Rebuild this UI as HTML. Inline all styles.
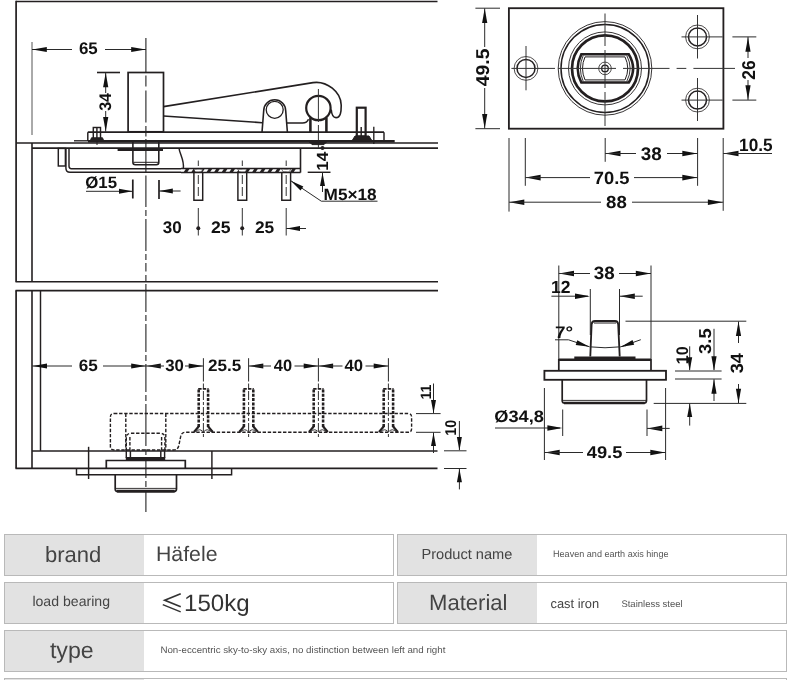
<!DOCTYPE html>
<html><head><meta charset="utf-8"><title>Hinge dimensions</title>
<style>
html,body{margin:0;padding:0;background:#fff;}
body{width:790px;height:680px;overflow:hidden;font-family:"Liberation Sans",sans-serif;}
svg{display:block;}
svg text{font-family:"Liberation Sans",sans-serif;text-rendering:geometricPrecision;}
svg{will-change:transform;}
</style></head><body>
<svg width="790" height="680" viewBox="0 0 790 680">
<rect width="790" height="680" fill="#fff"/>
<g id="tl">
<line x1="16.1" y1="0.8" x2="16.1" y2="281.8" stroke="#231f20" stroke-width="1.71" />
<line x1="16.1" y1="1.5" x2="437.5" y2="1.5" stroke="#231f20" stroke-width="1.71" />
<line x1="15.5" y1="281.8" x2="438" y2="281.8" stroke="#231f20" stroke-width="1.59" />
<line x1="16.1" y1="143" x2="438" y2="143" stroke="#231f20" stroke-width="1.46" />
<line x1="32" y1="148.1" x2="438" y2="148.1" stroke="#231f20" stroke-width="1.83" />
<line x1="32" y1="143" x2="32" y2="281.8" stroke="#231f20" stroke-width="1.59" />
<line x1="32" y1="42" x2="32" y2="135" stroke="#555" stroke-width="1.0" />
<line x1="145.9" y1="38" x2="145.9" y2="72" stroke="#222" stroke-width="1.1" />
<line x1="145.9" y1="75.5" x2="145.9" y2="86.5" stroke="#222" stroke-width="1.1" />
<line x1="145.9" y1="90.5" x2="145.9" y2="122.5" stroke="#222" stroke-width="1.1" />
<line x1="145.9" y1="126" x2="145.9" y2="136.5" stroke="#222" stroke-width="1.1" />
<line x1="145.9" y1="139" x2="145.9" y2="172" stroke="#222" stroke-width="1.1" />
<line x1="145.9" y1="175.5" x2="145.9" y2="207" stroke="#222" stroke-width="1.1" />
<line x1="145.9" y1="210" x2="145.9" y2="216" stroke="#222" stroke-width="1.1" />
<line x1="145.9" y1="219" x2="145.9" y2="251" stroke="#222" stroke-width="1.1" />
<line x1="145.9" y1="254" x2="145.9" y2="260" stroke="#222" stroke-width="1.1" />
<line x1="145.9" y1="263" x2="145.9" y2="271.5" stroke="#222" stroke-width="1.1" />
<line x1="145.9" y1="275" x2="145.9" y2="281" stroke="#222" stroke-width="1.1" />
<line x1="145.9" y1="284" x2="145.9" y2="312" stroke="#222" stroke-width="1.1" />
<line x1="145.9" y1="315" x2="145.9" y2="321" stroke="#222" stroke-width="1.1" />
<line x1="145.9" y1="324" x2="145.9" y2="352" stroke="#222" stroke-width="1.1" />
<line x1="145.9" y1="355" x2="145.9" y2="361" stroke="#222" stroke-width="1.1" />
<line x1="145.9" y1="364" x2="145.9" y2="392" stroke="#222" stroke-width="1.1" />
<line x1="145.9" y1="395" x2="145.9" y2="401" stroke="#222" stroke-width="1.1" />
<line x1="145.9" y1="404" x2="145.9" y2="446" stroke="#222" stroke-width="1.1" />
<line x1="145.9" y1="449" x2="145.9" y2="455" stroke="#222" stroke-width="1.1" />
<line x1="145.9" y1="458" x2="145.9" y2="478" stroke="#222" stroke-width="1.1" />
<line x1="145.9" y1="481" x2="145.9" y2="487" stroke="#222" stroke-width="1.1" />
<line x1="145.9" y1="490" x2="145.9" y2="512" stroke="#222" stroke-width="1.1" />
<line x1="32" y1="49.5" x2="72" y2="49.5" stroke="#2a2a2a" stroke-width="1.0" />
<polygon points="32.30,49.50 46.80,46.90 46.80,52.10" fill="#111"/>
<line x1="105" y1="49.5" x2="146" y2="49.5" stroke="#2a2a2a" stroke-width="1.0" />
<polygon points="145.70,49.50 131.20,52.10 131.20,46.90" fill="#111"/>
<text x="78.94" y="53.9" font-size="16.8" font-weight="700" fill="#111" text-anchor="start" textLength="18.81" lengthAdjust="spacingAndGlyphs" >65</text>
<line x1="97" y1="72.5" x2="120" y2="72.5" stroke="#231f20" stroke-width="1.59" />
<line x1="105.7" y1="72.5" x2="105.7" y2="93" stroke="#2a2a2a" stroke-width="1.0" />
<polygon points="105.70,72.80 108.30,87.30 103.10,87.30" fill="#111"/>
<line x1="105.7" y1="111" x2="105.7" y2="131.6" stroke="#2a2a2a" stroke-width="1.0" />
<polygon points="105.70,131.60 103.10,117.10 108.30,117.10" fill="#111"/>
<text transform="translate(111.1,110.86) rotate(-90)" font-size="16.8" font-weight="700" fill="#111" text-anchor="start" textLength="17.91" lengthAdjust="spacingAndGlyphs" >34</text>
<rect x="128.1" y="72.5" width="35.4" height="59.3" stroke="#231f20" stroke-width="1.71" fill="none" />
<path d="M163.5,106.6 L313,82.6 C327,80.6 341,92 341.2,105 C341.3,112 340.5,117.6 336,117.6 C332.5,117.6 331.6,114 331.2,109.5" stroke="#231f20" stroke-width="1.59" fill="none" />
<path d="M163.5,116 L262.3,122.7" stroke="#231f20" stroke-width="1.59" fill="none" />
<path d="M287,123 L302.5,123 Q307,123 308.5,119.3" stroke="#231f20" stroke-width="1.59" fill="none" />
<path d="M262,132.2 L263.7,110.8 A11,11 0 0 1 285.7,110.8 L287.4,132.2" stroke="#231f20" stroke-width="1.59" fill="none" />
<circle cx="274.7" cy="109.8" r="8.5" stroke="#231f20" stroke-width="1.3" fill="none"/>
<circle cx="318.4" cy="108" r="12.2" stroke="#231f20" stroke-width="2.2" fill="none"/>
<line x1="310.4" y1="118" x2="310.4" y2="132.2" stroke="#231f20" stroke-width="2.56" />
<line x1="326.4" y1="118" x2="326.4" y2="132.2" stroke="#231f20" stroke-width="2.56" />
<line x1="318.4" y1="89" x2="318.4" y2="122" stroke="#333" stroke-width="1.0" />
<line x1="318.4" y1="125" x2="318.4" y2="148" stroke="#333" stroke-width="1.0" />
<line x1="87.8" y1="132.2" x2="384" y2="132.2" stroke="#231f20" stroke-width="1.71" />
<line x1="384" y1="132.2" x2="384" y2="141" stroke="#231f20" stroke-width="1.46" />
<line x1="87.8" y1="132.2" x2="87.8" y2="141" stroke="#231f20" stroke-width="1.46" />
<line x1="74" y1="140.8" x2="89" y2="140.8" stroke="#231f20" stroke-width="1.34" />
<line x1="88" y1="141.2" x2="394.7" y2="141.2" stroke="#231f20" stroke-width="2.44" />
<path d="M309.5,142 L312,144.6 L324,144.6 L326.5,142 Z" stroke="#231f20" stroke-width="1" fill="#231f20" />
<rect x="93.3" y="127.5" width="7.2" height="12.5" stroke="#231f20" stroke-width="1.46" fill="none" />
<line x1="96.9" y1="127.6" x2="96.9" y2="140" stroke="#231f20" stroke-width="1.46" />
<path d="M90,141.5 L91.5,137.8 L102.5,137.8 L104,141.5 Z" stroke="#231f20" stroke-width="1" fill="#231f20" />
<line x1="97" y1="140" x2="97" y2="145" stroke="#231f20" stroke-width="1" />
<rect x="356.8" y="107.7" width="8.8" height="28.8" stroke="#231f20" stroke-width="2.2" fill="none" />
<line x1="361.2" y1="127" x2="361.2" y2="137" stroke="#231f20" stroke-width="1.46" />
<path d="M351.5,141.6 L355,136 L369,136 L372.5,141.6 Z" stroke="#231f20" stroke-width="1" fill="#231f20" />
<line x1="373.8" y1="126.8" x2="373.8" y2="144" stroke="#231f20" stroke-width="1.34" />
<rect x="58.3" y="148.4" width="7.1" height="17.6" stroke="#231f20" stroke-width="1.46" fill="none" />
<path d="M65.9,148 V168 Q65.9,172.3 70,172.3 H181" stroke="#231f20" stroke-width="1.46" fill="none" />
<path d="M69,148 V166.3 Q69,168.7 71.4,168.7 H181" stroke="#231f20" stroke-width="1.46" fill="none" />
<line x1="181" y1="168.6" x2="300.5" y2="168.6" stroke="#231f20" stroke-width="1.46" />
<line x1="181" y1="172.4" x2="300.5" y2="172.4" stroke="#231f20" stroke-width="1.46" />
<polygon points="183.5,172.6 187.1,172.6 189.7,168.4 186.1,168.4" fill="#231f20"/>
<polygon points="191.1,172.6 194.7,172.6 197.3,168.4 193.7,168.4" fill="#231f20"/>
<polygon points="198.7,172.6 202.3,172.6 204.9,168.4 201.3,168.4" fill="#231f20"/>
<polygon points="206.3,172.6 209.9,172.6 212.5,168.4 208.9,168.4" fill="#231f20"/>
<polygon points="213.9,172.6 217.5,172.6 220.1,168.4 216.5,168.4" fill="#231f20"/>
<polygon points="221.5,172.6 225.1,172.6 227.7,168.4 224.1,168.4" fill="#231f20"/>
<polygon points="229.1,172.6 232.7,172.6 235.3,168.4 231.7,168.4" fill="#231f20"/>
<polygon points="236.7,172.6 240.3,172.6 242.9,168.4 239.3,168.4" fill="#231f20"/>
<polygon points="244.3,172.6 247.9,172.6 250.5,168.4 246.9,168.4" fill="#231f20"/>
<polygon points="251.9,172.6 255.5,172.6 258.1,168.4 254.5,168.4" fill="#231f20"/>
<polygon points="259.5,172.6 263.1,172.6 265.7,168.4 262.1,168.4" fill="#231f20"/>
<polygon points="267.1,172.6 270.7,172.6 273.3,168.4 269.7,168.4" fill="#231f20"/>
<polygon points="274.7,172.6 278.3,172.6 280.9,168.4 277.3,168.4" fill="#231f20"/>
<polygon points="282.3,172.6 285.9,172.6 288.5,168.4 284.9,168.4" fill="#231f20"/>
<polygon points="289.9,172.6 293.5,172.6 296.1,168.4 292.5,168.4" fill="#231f20"/>
<line x1="300.5" y1="148" x2="300.5" y2="172.6" stroke="#231f20" stroke-width="1.59" />
<path d="M179,148 C179.5,154 184.5,160 183.3,168.6" stroke="#231f20" stroke-width="1.46" fill="none" />
<line x1="117.6" y1="149.8" x2="163" y2="149.8" stroke="#231f20" stroke-width="2.2" />
<path d="M132.9,142 V162.2 Q132.9,164.7 135.4,164.7 H156.3 Q158.8,164.7 158.8,162.2 V142" stroke="#231f20" stroke-width="1.59" fill="none" />
<line x1="133.5" y1="162.3" x2="158.2" y2="162.3" stroke="#231f20" stroke-width="1" />
<path d="M193.9,172.6 V200.3 H202.70000000000002 V172.6" stroke="#231f20" stroke-width="1.46" fill="none" />
<line x1="198.3" y1="160.5" x2="198.3" y2="166" stroke="#333" stroke-width="1.0" />
<line x1="198.3" y1="175" x2="198.3" y2="184" stroke="#333" stroke-width="1.0" />
<line x1="198.3" y1="187" x2="198.3" y2="196" stroke="#333" stroke-width="1.0" />
<line x1="198.3" y1="208" x2="198.3" y2="235.5" stroke="#333" stroke-width="1.0" />
<path d="M193.70000000000002,169.2 L195.3,171.8 L201.3,171.8 L202.9,169.2 Z" stroke="#231f20" stroke-width="0.6" fill="#fff" />
<path d="M237.9,172.6 V200.3 H246.70000000000002 V172.6" stroke="#231f20" stroke-width="1.46" fill="none" />
<line x1="242.3" y1="160.5" x2="242.3" y2="166" stroke="#333" stroke-width="1.0" />
<line x1="242.3" y1="175" x2="242.3" y2="184" stroke="#333" stroke-width="1.0" />
<line x1="242.3" y1="187" x2="242.3" y2="196" stroke="#333" stroke-width="1.0" />
<line x1="242.3" y1="208" x2="242.3" y2="235.5" stroke="#333" stroke-width="1.0" />
<path d="M237.70000000000002,169.2 L239.3,171.8 L245.3,171.8 L246.9,169.2 Z" stroke="#231f20" stroke-width="0.6" fill="#fff" />
<path d="M281.8,172.6 V200.3 H290.59999999999997 V172.6" stroke="#231f20" stroke-width="1.46" fill="none" />
<line x1="286.2" y1="160.5" x2="286.2" y2="166" stroke="#333" stroke-width="1.0" />
<line x1="286.2" y1="175" x2="286.2" y2="184" stroke="#333" stroke-width="1.0" />
<line x1="286.2" y1="187" x2="286.2" y2="196" stroke="#333" stroke-width="1.0" />
<line x1="286.2" y1="208" x2="286.2" y2="235.5" stroke="#333" stroke-width="1.0" />
<path d="M281.59999999999997,169.2 L283.2,171.8 L289.2,171.8 L290.8,169.2 Z" stroke="#231f20" stroke-width="0.6" fill="#fff" />
<text x="85.26" y="188" font-size="16.5" font-weight="700" fill="#111" text-anchor="start" textLength="31.78" lengthAdjust="spacingAndGlyphs" >Ø15</text>
<line x1="86" y1="191.3" x2="132" y2="191.3" stroke="#2a2a2a" stroke-width="1.0" />
<polygon points="132.50,191.30 119.00,193.80 119.00,188.80" fill="#111"/>
<line x1="132.8" y1="179.5" x2="132.8" y2="198.5" stroke="#231f20" stroke-width="1.71" />
<line x1="159" y1="180" x2="159" y2="199" stroke="#231f20" stroke-width="1.71" />
<line x1="159" y1="191" x2="180.6" y2="191" stroke="#2a2a2a" stroke-width="1.0" />
<polygon points="159.30,191.00 172.80,188.50 172.80,193.50" fill="#111"/>
<text x="162.84" y="232.6" font-size="16.8" font-weight="700" fill="#111" text-anchor="start" textLength="18.91" lengthAdjust="spacingAndGlyphs" >30</text>
<text x="211.04" y="232.6" font-size="16.8" font-weight="700" fill="#111" text-anchor="start" textLength="19.61" lengthAdjust="spacingAndGlyphs" >25</text>
<text x="254.94" y="232.6" font-size="16.8" font-weight="700" fill="#111" text-anchor="start" textLength="19.31" lengthAdjust="spacingAndGlyphs" >25</text>
<circle cx="198.3" cy="228.2" r="2" stroke="#231f20" stroke-width="0" fill="#231f20"/>
<circle cx="242.2" cy="228.2" r="2" stroke="#231f20" stroke-width="0" fill="#231f20"/>
<line x1="286.2" y1="228.5" x2="306" y2="228.5" stroke="#2a2a2a" stroke-width="1.0" />
<polygon points="286.50,228.50 300.00,226.00 300.00,231.00" fill="#111"/>
<circle cx="322.5" cy="147.9" r="2" stroke="#231f20" stroke-width="0" fill="#231f20"/>
<text transform="translate(327.9,170.83) rotate(-90)" font-size="16.2" font-weight="700" fill="#111" text-anchor="start" textLength="18.96" lengthAdjust="spacingAndGlyphs" >14</text>
<line x1="307.7" y1="172.3" x2="330.5" y2="172.3" stroke="#231f20" stroke-width="1.46" />
<line x1="322.5" y1="172.3" x2="322.5" y2="192" stroke="#2a2a2a" stroke-width="1.0" />
<polygon points="322.50,172.60 325.00,186.10 320.00,186.10" fill="#111"/>
<path d="M290.6,180.6 L321.3,201.2 H377.5" stroke="#2a2a2a" stroke-width="1.0" fill="none" />
<polygon points="290.80,180.80 303.34,186.39 300.51,190.51" fill="#111"/>
<text x="323.56" y="199.7" font-size="16.4" font-weight="700" fill="#111" text-anchor="start" textLength="53.08" lengthAdjust="spacingAndGlyphs" >M5×18</text>
</g>
<g id="bl">
<line x1="15.5" y1="290.6" x2="438" y2="290.6" stroke="#231f20" stroke-width="1.59" />
<line x1="16.1" y1="290.6" x2="16.1" y2="468.4" stroke="#231f20" stroke-width="1.71" />
<line x1="32" y1="290.6" x2="32" y2="468.4" stroke="#231f20" stroke-width="1.59" />
<line x1="40.5" y1="290.6" x2="40.5" y2="451" stroke="#231f20" stroke-width="1.46" />
<line x1="32" y1="451" x2="437.5" y2="451" stroke="#231f20" stroke-width="1.59" />
<line x1="15.5" y1="468.4" x2="437.5" y2="468.4" stroke="#231f20" stroke-width="1.59" />
<line x1="32" y1="366" x2="72" y2="366" stroke="#2a2a2a" stroke-width="1.0" />
<polygon points="32.50,366.00 47.00,363.40 47.00,368.60" fill="#111"/>
<line x1="103" y1="366" x2="146" y2="366" stroke="#2a2a2a" stroke-width="1.0" />
<polygon points="145.70,366.00 131.20,368.60 131.20,363.40" fill="#111"/>
<text x="78.66" y="371" font-size="16.5" font-weight="700" fill="#111" text-anchor="start" textLength="19.08" lengthAdjust="spacingAndGlyphs" >65</text>
<polygon points="146.30,366.00 160.80,363.40 160.80,368.60" fill="#111"/>
<line x1="146" y1="366" x2="164" y2="366" stroke="#2a2a2a" stroke-width="1.0" />
<line x1="185" y1="366" x2="203.4" y2="366" stroke="#2a2a2a" stroke-width="1.0" />
<polygon points="203.20,366.00 188.70,368.60 188.70,363.40" fill="#111"/>
<text x="165.16" y="370.9" font-size="16.5" font-weight="700" fill="#111" text-anchor="start" textLength="18.68" lengthAdjust="spacingAndGlyphs" >30</text>
<text x="208.06" y="370.9" font-size="16.5" font-weight="700" fill="#111" text-anchor="start" textLength="33.28" lengthAdjust="spacingAndGlyphs" >25.5</text>
<polygon points="248.80,366.00 263.30,363.40 263.30,368.60" fill="#111"/>
<line x1="248.6" y1="366" x2="271" y2="366" stroke="#2a2a2a" stroke-width="1.0" />
<line x1="294.5" y1="366" x2="318.4" y2="366" stroke="#2a2a2a" stroke-width="1.0" />
<polygon points="318.20,366.00 303.70,368.60 303.70,363.40" fill="#111"/>
<text x="273.86" y="370.9" font-size="16.5" font-weight="700" fill="#111" text-anchor="start" textLength="18.28" lengthAdjust="spacingAndGlyphs" >40</text>
<polygon points="318.60,366.00 333.10,363.40 333.10,368.60" fill="#111"/>
<line x1="318.4" y1="366" x2="342.5" y2="366" stroke="#2a2a2a" stroke-width="1.0" />
<line x1="365.5" y1="366" x2="388.4" y2="366" stroke="#2a2a2a" stroke-width="1.0" />
<polygon points="388.20,366.00 373.70,368.60 373.70,363.40" fill="#111"/>
<text x="344.56" y="370.9" font-size="16.5" font-weight="700" fill="#111" text-anchor="start" textLength="18.58" lengthAdjust="spacingAndGlyphs" >40</text>
<line x1="203.4" y1="358.2" x2="203.4" y2="381.5" stroke="#2a2a2a" stroke-width="1.0" />
<line x1="203.4" y1="383.5" x2="203.4" y2="389" stroke="#333" stroke-width="1.0" />
<line x1="248.6" y1="358.2" x2="248.6" y2="381.5" stroke="#2a2a2a" stroke-width="1.0" />
<line x1="248.6" y1="383.5" x2="248.6" y2="389" stroke="#333" stroke-width="1.0" />
<line x1="318.4" y1="358.2" x2="318.4" y2="381.5" stroke="#2a2a2a" stroke-width="1.0" />
<line x1="318.4" y1="383.5" x2="318.4" y2="389" stroke="#333" stroke-width="1.0" />
<line x1="388.4" y1="358.2" x2="388.4" y2="381.5" stroke="#2a2a2a" stroke-width="1.0" />
<line x1="388.4" y1="383.5" x2="388.4" y2="389" stroke="#333" stroke-width="1.0" />
<path d="M114,413.5 H408 Q411.6,413.5 411.6,417 V428.8 Q411.6,432.3 408,432.3 H185.5 Q181.4,432.3 180.7,436.4 L178.8,445.6 Q177.9,450 173.5,450 H114 Q110.4,450 110.4,446.4 V417 Q110.4,413.5 114,413.5 Z" stroke="#231f20" stroke-width="1.4" fill="none" stroke-dasharray="3.4 1.7"/>
<line x1="125.8" y1="413.5" x2="125.8" y2="450" stroke="#231f20" stroke-width="1.4" stroke-dasharray="3.4 1.7"/>
<line x1="165.8" y1="413.5" x2="165.8" y2="450" stroke="#231f20" stroke-width="1.4" stroke-dasharray="3.4 1.7"/>
<path d="M126.3,451 V438 Q126.3,433.3 131,433.3 H160.2 Q164.9,433.3 164.9,438 V451" stroke="#231f20" stroke-width="1.4" fill="none" stroke-dasharray="3.4 1.7"/>
<line x1="129.9" y1="437" x2="129.9" y2="451" stroke="#231f20" stroke-width="1.4" stroke-dasharray="3.4 1.7"/>
<line x1="161.6" y1="437" x2="161.6" y2="451" stroke="#231f20" stroke-width="1.4" stroke-dasharray="3.4 1.7"/>
<line x1="198.70000000000002" y1="389.5" x2="198.70000000000002" y2="427" stroke="#231f20" stroke-width="2.56" stroke-dasharray="3 1.3"/>
<line x1="208.1" y1="389.5" x2="208.1" y2="427" stroke="#231f20" stroke-width="2.56" stroke-dasharray="3 1.3"/>
<line x1="198.20000000000002" y1="388.8" x2="208.6" y2="388.8" stroke="#231f20" stroke-width="1.71" stroke-dasharray="3.4 1.2"/>
<path d="M198.70000000000002,426.5 L194.0,432 M208.1,426.5 L212.8,432" stroke="#231f20" stroke-width="2.2" fill="none" />
<path d="M195.9,431.6 Q199.4,428.2 202.6,431.2 M210.9,431.6 Q207.4,428.2 204.20000000000002,431.2" stroke="#231f20" stroke-width="0.9" fill="none" />
<line x1="203.4" y1="391" x2="203.4" y2="437.5" stroke="#333" stroke-width="1.0" stroke-dasharray="9 2 3 2"/>
<line x1="243.9" y1="389.5" x2="243.9" y2="427" stroke="#231f20" stroke-width="2.56" stroke-dasharray="3 1.3"/>
<line x1="253.29999999999998" y1="389.5" x2="253.29999999999998" y2="427" stroke="#231f20" stroke-width="2.56" stroke-dasharray="3 1.3"/>
<line x1="243.4" y1="388.8" x2="253.79999999999998" y2="388.8" stroke="#231f20" stroke-width="1.71" stroke-dasharray="3.4 1.2"/>
<path d="M243.9,426.5 L239.2,432 M253.29999999999998,426.5 L258.0,432" stroke="#231f20" stroke-width="2.2" fill="none" />
<path d="M241.1,431.6 Q244.6,428.2 247.79999999999998,431.2 M256.1,431.6 Q252.6,428.2 249.4,431.2" stroke="#231f20" stroke-width="0.9" fill="none" />
<line x1="248.6" y1="391" x2="248.6" y2="437.5" stroke="#333" stroke-width="1.0" stroke-dasharray="9 2 3 2"/>
<line x1="313.7" y1="389.5" x2="313.7" y2="427" stroke="#231f20" stroke-width="2.56" stroke-dasharray="3 1.3"/>
<line x1="323.09999999999997" y1="389.5" x2="323.09999999999997" y2="427" stroke="#231f20" stroke-width="2.56" stroke-dasharray="3 1.3"/>
<line x1="313.2" y1="388.8" x2="323.59999999999997" y2="388.8" stroke="#231f20" stroke-width="1.71" stroke-dasharray="3.4 1.2"/>
<path d="M313.7,426.5 L309.0,432 M323.09999999999997,426.5 L327.79999999999995,432" stroke="#231f20" stroke-width="2.2" fill="none" />
<path d="M310.9,431.6 Q314.4,428.2 317.59999999999997,431.2 M325.9,431.6 Q322.4,428.2 319.2,431.2" stroke="#231f20" stroke-width="0.9" fill="none" />
<line x1="318.4" y1="391" x2="318.4" y2="437.5" stroke="#333" stroke-width="1.0" stroke-dasharray="9 2 3 2"/>
<line x1="383.7" y1="389.5" x2="383.7" y2="427" stroke="#231f20" stroke-width="2.56" stroke-dasharray="3 1.3"/>
<line x1="393.09999999999997" y1="389.5" x2="393.09999999999997" y2="427" stroke="#231f20" stroke-width="2.56" stroke-dasharray="3 1.3"/>
<line x1="383.2" y1="388.8" x2="393.59999999999997" y2="388.8" stroke="#231f20" stroke-width="1.71" stroke-dasharray="3.4 1.2"/>
<path d="M383.7,426.5 L379.0,432 M393.09999999999997,426.5 L397.79999999999995,432" stroke="#231f20" stroke-width="2.2" fill="none" />
<path d="M380.9,431.6 Q384.4,428.2 387.59999999999997,431.2 M395.9,431.6 Q392.4,428.2 389.2,431.2" stroke="#231f20" stroke-width="0.9" fill="none" />
<line x1="388.4" y1="391" x2="388.4" y2="437.5" stroke="#333" stroke-width="1.0" stroke-dasharray="9 2 3 2"/>
<line x1="126.3" y1="451" x2="126.3" y2="458" stroke="#231f20" stroke-width="1.46" />
<line x1="130.4" y1="451" x2="130.4" y2="458" stroke="#231f20" stroke-width="1.46" />
<line x1="160.8" y1="451" x2="160.8" y2="458" stroke="#231f20" stroke-width="1.46" />
<line x1="164.6" y1="451" x2="164.6" y2="458" stroke="#231f20" stroke-width="1.46" />
<line x1="125.8" y1="459" x2="165.2" y2="459" stroke="#231f20" stroke-width="3.9" />
<path d="M106.3,468.4 V460.5 H185.3 V468.4" stroke="#231f20" stroke-width="1.71" fill="none" />
<path d="M76.5,468.4 V474.8 H231.6 V468.4" stroke="#231f20" stroke-width="1.46" fill="none" />
<path d="M115.2,474.8 V489 Q115.2,491.6 118,491.6 H173.7 Q176.5,491.6 176.5,489 V474.8" stroke="#231f20" stroke-width="1.71" fill="none" />
<line x1="117" y1="491.1" x2="174.7" y2="491.1" stroke="#231f20" stroke-width="2.93" />
<line x1="115.8" y1="488.4" x2="176" y2="488.4" stroke="#231f20" stroke-width="0.9" />
<line x1="88.6" y1="446.8" x2="88.6" y2="479" stroke="#231f20" stroke-width="1.46" />
<line x1="211.9" y1="451" x2="211.9" y2="479" stroke="#231f20" stroke-width="1.46" />
<line x1="416" y1="413.6" x2="440.6" y2="413.6" stroke="#2a2a2a" stroke-width="1.0" />
<line x1="416" y1="432.3" x2="440.6" y2="432.3" stroke="#2a2a2a" stroke-width="1.0" />
<line x1="433.5" y1="383.5" x2="433.5" y2="413" stroke="#2a2a2a" stroke-width="1.0" />
<polygon points="433.50,413.40 431.00,399.90 436.00,399.90" fill="#111"/>
<line x1="433.5" y1="432.5" x2="433.5" y2="453" stroke="#2a2a2a" stroke-width="1.0" />
<polygon points="433.50,432.50 436.00,446.00 431.00,446.00" fill="#111"/>
<text transform="translate(430.7,399.48) rotate(-90)" font-size="15" font-weight="700" fill="#111" text-anchor="start" textLength="14.95" lengthAdjust="spacingAndGlyphs" >11</text>
<line x1="444" y1="450.8" x2="466.5" y2="450.8" stroke="#2a2a2a" stroke-width="1.0" />
<line x1="444" y1="468.5" x2="466.5" y2="468.5" stroke="#2a2a2a" stroke-width="1.0" />
<line x1="459.4" y1="421" x2="459.4" y2="450" stroke="#2a2a2a" stroke-width="1.0" />
<polygon points="459.40,450.60 456.90,437.10 461.90,437.10" fill="#111"/>
<line x1="459.4" y1="468.7" x2="459.4" y2="489.4" stroke="#2a2a2a" stroke-width="1.0" />
<polygon points="459.40,468.70 461.90,482.20 456.90,482.20" fill="#111"/>
<text transform="translate(456.2,435.7) rotate(-90)" font-size="15.6" font-weight="700" fill="#111" text-anchor="start" textLength="15.9" lengthAdjust="spacingAndGlyphs" >10</text>
</g>
<g id="tr">
<rect x="508.9" y="8.2" width="214.5" height="120.5" stroke="#231f20" stroke-width="1.83" fill="none" />
<circle cx="605" cy="68.4" r="46.8" stroke="#231f20" stroke-width="0.9" fill="none"/>
<circle cx="605" cy="68.4" r="44" stroke="#231f20" stroke-width="1.5" fill="none"/>
<circle cx="605" cy="68.4" r="36.5" stroke="#231f20" stroke-width="0.9" fill="none"/>
<circle cx="605" cy="68.4" r="33" stroke="#231f20" stroke-width="2.7" fill="none"/>
<path d="M581.3,54.3 H628.8 Q637.4,68.4 628.8,82.5 H581.3 Q574,68.4 581.3,54.3 Z" stroke="#231f20" stroke-width="2.56" fill="none" />
<path d="M585,56.9 H625 Q630.5,68.4 625,79.9 H585 Q580,68.4 585,56.9 Z" stroke="#231f20" stroke-width="1.0" fill="none" />
<path d="M583.2,55.5 Q577.5,68.4 583.2,81.3 M626.8,55.5 Q633.5,68.4 626.8,81.3" stroke="#231f20" stroke-width="0.9" fill="none" />
<circle cx="605" cy="68.4" r="6.3" stroke="#231f20" stroke-width="0.8" fill="none"/>
<circle cx="605" cy="68.4" r="3.3" stroke="#231f20" stroke-width="1.3" fill="none"/>
<circle cx="526" cy="68.4" r="11.9" stroke="#231f20" stroke-width="0.8" fill="none"/>
<circle cx="526" cy="68.4" r="9" stroke="#231f20" stroke-width="1.5" fill="none"/>
<circle cx="697.5" cy="36.9" r="11.9" stroke="#231f20" stroke-width="0.8" fill="none"/>
<circle cx="697.5" cy="36.9" r="9" stroke="#231f20" stroke-width="1.5" fill="none"/>
<circle cx="697.5" cy="100.1" r="11.9" stroke="#231f20" stroke-width="0.8" fill="none"/>
<circle cx="697.5" cy="100.1" r="9" stroke="#231f20" stroke-width="1.5" fill="none"/>
<line x1="511.4" y1="68.4" x2="555" y2="68.4" stroke="#333" stroke-width="1.0" />
<line x1="526" y1="46" x2="526" y2="90.3" stroke="#333" stroke-width="1.0" />
<line x1="558" y1="68.4" x2="616" y2="68.4" stroke="#333" stroke-width="1.0" />
<line x1="623" y1="68.4" x2="669.5" y2="68.4" stroke="#333" stroke-width="1.0" />
<line x1="676.6" y1="68.4" x2="686.3" y2="68.4" stroke="#333" stroke-width="1.0" />
<line x1="693.4" y1="68.4" x2="735" y2="68.4" stroke="#333" stroke-width="1.0" />
<line x1="605" y1="13.5" x2="605" y2="46" stroke="#333" stroke-width="1.0" />
<line x1="605" y1="50" x2="605" y2="88" stroke="#333" stroke-width="1.0" />
<line x1="605" y1="92" x2="605" y2="126" stroke="#333" stroke-width="1.0" />
<line x1="681.5" y1="36.9" x2="722.7" y2="36.9" stroke="#333" stroke-width="1.0" />
<line x1="681.5" y1="100.1" x2="722.7" y2="100.1" stroke="#333" stroke-width="1.0" />
<line x1="697.5" y1="15" x2="697.5" y2="58.5" stroke="#333" stroke-width="1.0" />
<line x1="697.5" y1="78" x2="697.5" y2="121" stroke="#333" stroke-width="1.0" />
<line x1="732.4" y1="36.9" x2="756.3" y2="36.9" stroke="#2a2a2a" stroke-width="1.0" />
<line x1="732.4" y1="100.1" x2="756.3" y2="100.1" stroke="#2a2a2a" stroke-width="1.0" />
<line x1="748" y1="36.9" x2="748" y2="58" stroke="#2a2a2a" stroke-width="1.0" />
<polygon points="748.00,37.20 750.60,51.70 745.40,51.70" fill="#111"/>
<line x1="748" y1="80" x2="748" y2="100" stroke="#2a2a2a" stroke-width="1.0" />
<polygon points="748.00,99.80 745.40,85.30 750.60,85.30" fill="#111"/>
<text transform="translate(754.6,79.73) rotate(-90)" font-size="18.5" font-weight="700" fill="#111" text-anchor="start" textLength="19.47" lengthAdjust="spacingAndGlyphs" >26</text>
<line x1="475.4" y1="8.2" x2="500" y2="8.2" stroke="#2a2a2a" stroke-width="1.0" />
<line x1="475.4" y1="128.7" x2="500" y2="128.7" stroke="#2a2a2a" stroke-width="1.0" />
<line x1="484.7" y1="8.4" x2="484.7" y2="47" stroke="#2a2a2a" stroke-width="1.0" />
<polygon points="484.70,8.50 487.30,23.00 482.10,23.00" fill="#111"/>
<line x1="484.7" y1="88" x2="484.7" y2="128.5" stroke="#2a2a2a" stroke-width="1.0" />
<polygon points="484.70,128.40 482.10,113.90 487.30,113.90" fill="#111"/>
<text transform="translate(488.8,86.34) rotate(-90)" font-size="18.6" font-weight="700" fill="#111" text-anchor="start" textLength="37.77" lengthAdjust="spacingAndGlyphs" >49.5</text>
<line x1="509" y1="138" x2="509" y2="211.6" stroke="#2a2a2a" stroke-width="1.0" />
<line x1="525.3" y1="138" x2="525.3" y2="185.8" stroke="#2a2a2a" stroke-width="1.0" />
<line x1="605.2" y1="138" x2="605.2" y2="161.8" stroke="#2a2a2a" stroke-width="1.0" />
<line x1="697.6" y1="138" x2="697.6" y2="185.8" stroke="#2a2a2a" stroke-width="1.0" />
<line x1="723.2" y1="138" x2="723.2" y2="210.8" stroke="#2a2a2a" stroke-width="1.0" />
<polygon points="605.50,153.50 620.50,150.70 620.50,156.30" fill="#111"/>
<line x1="605.2" y1="153.5" x2="636" y2="153.5" stroke="#2a2a2a" stroke-width="1.0" />
<line x1="667" y1="153.5" x2="697.6" y2="153.5" stroke="#2a2a2a" stroke-width="1.0" />
<polygon points="697.30,153.50 682.30,156.30 682.30,150.70" fill="#111"/>
<text x="640.88" y="159.9" font-size="18.3" font-weight="700" fill="#111" text-anchor="start" textLength="20.95" lengthAdjust="spacingAndGlyphs" >38</text>
<polygon points="525.60,177.60 540.60,174.80 540.60,180.40" fill="#111"/>
<line x1="525.3" y1="177.6" x2="590" y2="177.6" stroke="#2a2a2a" stroke-width="1.0" />
<line x1="634" y1="177.6" x2="697.6" y2="177.6" stroke="#2a2a2a" stroke-width="1.0" />
<polygon points="697.30,177.60 682.30,180.40 682.30,174.80" fill="#111"/>
<text x="593.8" y="183.8" font-size="17.8" font-weight="700" fill="#111" text-anchor="start" textLength="35.7" lengthAdjust="spacingAndGlyphs" >70.5</text>
<polygon points="509.30,202.20 524.30,199.40 524.30,205.00" fill="#111"/>
<line x1="509" y1="202.2" x2="601" y2="202.2" stroke="#2a2a2a" stroke-width="1.0" />
<line x1="632" y1="202.2" x2="723.2" y2="202.2" stroke="#2a2a2a" stroke-width="1.0" />
<polygon points="722.90,202.20 707.90,205.00 707.90,199.40" fill="#111"/>
<text x="606.01" y="208.2" font-size="17.5" font-weight="700" fill="#111" text-anchor="start" textLength="20.78" lengthAdjust="spacingAndGlyphs" >88</text>
<polygon points="723.50,153.50 738.50,150.70 738.50,156.30" fill="#111"/>
<line x1="723.2" y1="153.5" x2="772" y2="153.5" stroke="#2a2a2a" stroke-width="1.0" />
<text x="739.1" y="150.6" font-size="17.8" font-weight="700" fill="#111" text-anchor="start" textLength="33.5" lengthAdjust="spacingAndGlyphs" >10.5</text>
</g>
<g id="br">
<line x1="558.8" y1="265.5" x2="558.8" y2="359" stroke="#2a2a2a" stroke-width="1.0" />
<line x1="651" y1="265.5" x2="651" y2="359" stroke="#2a2a2a" stroke-width="1.0" />
<polygon points="559.00,273.50 574.00,270.70 574.00,276.30" fill="#111"/>
<line x1="558.8" y1="273.5" x2="590" y2="273.5" stroke="#2a2a2a" stroke-width="1.0" />
<line x1="619" y1="273.5" x2="651" y2="273.5" stroke="#2a2a2a" stroke-width="1.0" />
<polygon points="650.80,273.50 635.80,276.30 635.80,270.70" fill="#111"/>
<text x="593.8" y="279" font-size="17.8" font-weight="700" fill="#111" text-anchor="start" textLength="20.9" lengthAdjust="spacingAndGlyphs" >38</text>
<text x="551.11" y="293.4" font-size="17.6" font-weight="700" fill="#111" text-anchor="start" textLength="19.48" lengthAdjust="spacingAndGlyphs" >12</text>
<line x1="551.4" y1="296.2" x2="588" y2="296.2" stroke="#2a2a2a" stroke-width="1.0" />
<polygon points="590.00,296.20 575.00,299.00 575.00,293.40" fill="#111"/>
<line x1="590.3" y1="289" x2="590.3" y2="335" stroke="#2a2a2a" stroke-width="1.0" />
<line x1="619.5" y1="289" x2="619.5" y2="335" stroke="#2a2a2a" stroke-width="1.0" />
<polygon points="619.80,296.20 634.80,293.40 634.80,299.00" fill="#111"/>
<line x1="620" y1="296.2" x2="642.7" y2="296.2" stroke="#2a2a2a" stroke-width="1.0" />
<path d="M590.3,356.5 L591.6,324.5 Q591.8,321 595,321 H615 Q618,321 618.2,324.5 L619.7,356.5" stroke="#231f20" stroke-width="1.83" fill="none" />
<line x1="594" y1="323" x2="616" y2="323" stroke="#231f20" stroke-width="1" />
<text x="555.04" y="337.8" font-size="16.8" font-weight="700" fill="#111" text-anchor="start" textLength="18.11" lengthAdjust="spacingAndGlyphs" >7°</text>
<path d="M555,339.8 H568.5 L589,346.6" stroke="#2a2a2a" stroke-width="1.0" fill="none" />
<polygon points="589.30,346.80 575.70,344.90 577.28,340.16" fill="#111"/>
<path d="M589.3,346.8 Q605,348.7 620.8,346.8" stroke="#2a2a2a" stroke-width="1.0" fill="none" />
<path d="M620.8,346.8 L640.8,339.7" stroke="#2a2a2a" stroke-width="1.0" fill="none" />
<polygon points="620.60,346.90 632.52,340.08 634.17,344.80" fill="#111"/>
<line x1="574.3" y1="357.8" x2="635.5" y2="357.8" stroke="#231f20" stroke-width="2.44" />
<path d="M558.8,370.8 V359.8 H651 V370.8" stroke="#231f20" stroke-width="1.71" fill="none" />
<line x1="558.8" y1="359.8" x2="651" y2="359.8" stroke="#231f20" stroke-width="2.44" />
<rect x="544.4" y="370.8" width="121.6" height="9.0" stroke="#231f20" stroke-width="1.83" fill="none" />
<path d="M562.2,379.8 V400.5 Q562.2,403.2 565,403.2 H643.7 Q646.5,403.2 646.5,400.5 V379.8" stroke="#231f20" stroke-width="1.71" fill="none" />
<line x1="564" y1="403" x2="644.7" y2="403" stroke="#231f20" stroke-width="2.44" />
<line x1="562.8" y1="400.4" x2="646" y2="400.4" stroke="#231f20" stroke-width="0.9" />
<line x1="625.5" y1="321.2" x2="746.3" y2="321.2" stroke="#2a2a2a" stroke-width="1.0" />
<line x1="675" y1="371" x2="721.6" y2="371" stroke="#2a2a2a" stroke-width="1.0" />
<line x1="675" y1="379" x2="721.6" y2="379" stroke="#2a2a2a" stroke-width="1.0" />
<line x1="653.7" y1="403.4" x2="746.3" y2="403.4" stroke="#2a2a2a" stroke-width="1.0" />
<line x1="738.5" y1="321.5" x2="738.5" y2="343" stroke="#2a2a2a" stroke-width="1.0" />
<polygon points="738.50,321.50 741.10,336.00 735.90,336.00" fill="#111"/>
<line x1="738.5" y1="384" x2="738.5" y2="403" stroke="#2a2a2a" stroke-width="1.0" />
<polygon points="738.50,403.20 735.90,388.70 741.10,388.70" fill="#111"/>
<text transform="translate(743.3,373.3) rotate(-90)" font-size="17.8" font-weight="700" fill="#111" text-anchor="start" textLength="20.1" lengthAdjust="spacingAndGlyphs" >34</text>
<line x1="714" y1="328.8" x2="714" y2="370" stroke="#2a2a2a" stroke-width="1.0" />
<polygon points="714.00,370.80 711.40,356.30 716.60,356.30" fill="#111"/>
<line x1="714" y1="379.2" x2="714" y2="401" stroke="#2a2a2a" stroke-width="1.0" />
<polygon points="714.00,379.20 716.60,393.70 711.40,393.70" fill="#111"/>
<text transform="translate(711.3,353.88) rotate(-90)" font-size="17.3" font-weight="700" fill="#111" text-anchor="start" textLength="25.46" lengthAdjust="spacingAndGlyphs" >3.5</text>
<line x1="689.7" y1="346.3" x2="689.7" y2="370" stroke="#2a2a2a" stroke-width="1.0" />
<polygon points="689.70,370.80 687.20,357.30 692.20,357.30" fill="#111"/>
<line x1="689.7" y1="403.6" x2="689.7" y2="425.6" stroke="#2a2a2a" stroke-width="1.0" />
<polygon points="689.70,403.60 692.20,417.10 687.20,417.10" fill="#111"/>
<text transform="translate(687.7,364.16) rotate(-90)" font-size="16.8" font-weight="700" fill="#111" text-anchor="start" textLength="17.91" lengthAdjust="spacingAndGlyphs" >10</text>
<text x="494.25" y="422.4" font-size="16.6" font-weight="700" fill="#111" text-anchor="start" textLength="49.69" lengthAdjust="spacingAndGlyphs" >Ø34,8</text>
<line x1="495" y1="428" x2="560" y2="428" stroke="#2a2a2a" stroke-width="1.0" />
<polygon points="562.40,428.00 547.40,430.80 547.40,425.20" fill="#111"/>
<line x1="562.7" y1="409.5" x2="562.7" y2="436" stroke="#2a2a2a" stroke-width="1.0" />
<line x1="647" y1="409.5" x2="647" y2="436" stroke="#2a2a2a" stroke-width="1.0" />
<polygon points="647.30,428.40 662.30,425.60 662.30,431.20" fill="#111"/>
<line x1="647" y1="428.4" x2="669.7" y2="428.4" stroke="#2a2a2a" stroke-width="1.0" />
<line x1="544.4" y1="388" x2="544.4" y2="460" stroke="#2a2a2a" stroke-width="1.0" />
<line x1="665.6" y1="388" x2="665.6" y2="460" stroke="#2a2a2a" stroke-width="1.0" />
<polygon points="544.70,452.50 559.70,449.70 559.70,455.30" fill="#111"/>
<line x1="544.4" y1="452.5" x2="583" y2="452.5" stroke="#2a2a2a" stroke-width="1.0" />
<line x1="626" y1="452.5" x2="665.6" y2="452.5" stroke="#2a2a2a" stroke-width="1.0" />
<polygon points="665.30,452.50 650.30,455.30 650.30,449.70" fill="#111"/>
<text x="586.74" y="458.4" font-size="17" font-weight="700" fill="#111" text-anchor="start" textLength="35.63" lengthAdjust="spacingAndGlyphs" >49.5</text>
</g>
<g id="tbl" font-weight="400">
<rect x="4.5" y="534.5" width="139.5" height="41.0" fill="#e2e2e2"/>
<rect x="4.5" y="534.5" width="389.0" height="41.0" fill="none" stroke="#b9b9b9" stroke-width="1"/>
<rect x="397.5" y="534.5" width="139.5" height="41.0" fill="#e2e2e2"/>
<rect x="397.5" y="534.5" width="389.0" height="41.0" fill="none" stroke="#b9b9b9" stroke-width="1"/>
<rect x="4.5" y="582.5" width="139.5" height="41.0" fill="#e2e2e2"/>
<rect x="4.5" y="582.5" width="389.0" height="41.0" fill="none" stroke="#b9b9b9" stroke-width="1"/>
<rect x="397.5" y="582.5" width="139.5" height="41.0" fill="#e2e2e2"/>
<rect x="397.5" y="582.5" width="389.0" height="41.0" fill="none" stroke="#b9b9b9" stroke-width="1"/>
<rect x="4.5" y="630.5" width="139.5" height="41.0" fill="#e2e2e2"/>
<rect x="4.5" y="630.5" width="782.0" height="41.0" fill="none" stroke="#b9b9b9" stroke-width="1"/>
<rect x="4.5" y="678.5" width="139.5" height="41.5" fill="#e2e2e2"/>
<rect x="4.5" y="678.5" width="782.0" height="41.5" fill="none" stroke="#b9b9b9" stroke-width="1"/>
<text x="45" y="562" font-size="22" fill="#444" text-anchor="start" textLength="56.3" lengthAdjust="spacingAndGlyphs" >brand</text>
<text x="156" y="560.6" font-size="21" fill="#444" text-anchor="start" textLength="61.5" lengthAdjust="spacingAndGlyphs" >Häfele</text>
<text x="32.4" y="606" font-size="14" fill="#444" text-anchor="start" textLength="77.6" lengthAdjust="spacingAndGlyphs" >load bearing</text>
<text x="49.9" y="658" font-size="23" fill="#444" text-anchor="start" textLength="43.8" lengthAdjust="spacingAndGlyphs" >type</text>
<text x="160.4" y="653" font-size="9.3" fill="#555" text-anchor="start" textLength="285" lengthAdjust="spacingAndGlyphs" >Non-eccentric sky-to-sky axis, no distinction between left and right</text>
<text x="421.4" y="558.5" font-size="14.5" fill="#444" text-anchor="start" textLength="91" lengthAdjust="spacingAndGlyphs" >Product name</text>
<text x="553" y="556.7" font-size="9.3" fill="#555" text-anchor="start" textLength="115.5" lengthAdjust="spacingAndGlyphs" >Heaven and earth axis hinge</text>
<text x="429" y="610.3" font-size="22" fill="#444" text-anchor="start" textLength="78.5" lengthAdjust="spacingAndGlyphs" >Material</text>
<text x="550.5" y="607.5" font-size="13" fill="#444" text-anchor="start" textLength="48.6" lengthAdjust="spacingAndGlyphs" >cast iron</text>
<text x="621.4" y="606.5" font-size="9.5" fill="#555" text-anchor="start" textLength="61.3" lengthAdjust="spacingAndGlyphs" >Stainless steel</text>
<text x="160" y="611.6" font-size="24" fill="#333"><tspan font-family="'Noto Sans CJK SC', 'Liberation Sans', sans-serif">≤</tspan></text>
<text x="184" y="611.2" font-size="23.6" fill="#333" text-anchor="start" textLength="65.6" lengthAdjust="spacingAndGlyphs" >150kg</text>
</g>
</svg>
</body></html>
